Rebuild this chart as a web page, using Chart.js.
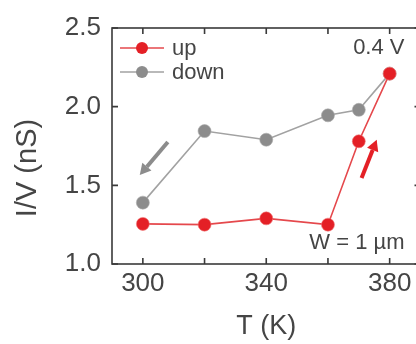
<!DOCTYPE html>
<html><head><meta charset="utf-8">
<style>
html,body{margin:0;padding:0;background:#fff;overflow:hidden;width:416px;height:344px}
#wrap{width:428px;height:344px;position:relative}
canvas{display:block}
</style>
<script src="https://cdn.jsdelivr.net/npm/chart.js@4.4.1/dist/chart.umd.min.js"></script>
</head><body>
<div id="wrap"><canvas id="c" width="428" height="344"></canvas></div>
<script>
const temperatures = [300, 320, 340, 360, 370, 380];
const upValues = [1.255, 1.25, 1.29, 1.25, 1.78, 2.21];
const downValues = [1.39, 1.845, 1.79, 1.945, 1.98, 2.21];
const xTickLabels = [300, 340, 380];
const xMinorTicks = [300, 320, 340, 360, 380];
const yTickValues = [1.0, 1.5, 2.0, 2.5];
const seriesNames = ['up', 'down'];
const xTitle = 'T (K)';
const yTitle = 'I/V (nS)';
const voltageLabel = '0.4 V';
const widthLabel = 'W = 1 µm';
// arrows in data coordinates: [x0, y0, x1, y1]
const downArrow = [308.1, 1.775, 299.0, 1.565];
const upArrow = [370.9, 1.546, 375.8, 1.79];

const RED = '#e42026', RED_LINE = '#e5484c', GRAY = '#8c8c8c', GRAY_LINE = '#a2a2a2';
const TXT = '#454545', AX = '#3a3a3a';
const FONT = '"Liberation Sans", Arial, sans-serif';

const deco = {
  id: 'deco',
  afterDraw(chart) {
    const {ctx, chartArea: a, scales: {x, y}} = chart;
    ctx.save();
    ctx.strokeStyle = AX; ctx.lineWidth = 1.6;
    ctx.strokeRect(a.left, a.top, a.right - a.left, a.bottom - a.top);
    const tl = 6;
    ctx.beginPath();
    xMinorTicks.forEach(v => {
      const px = x.getPixelForValue(v);
      ctx.moveTo(px, a.bottom); ctx.lineTo(px, a.bottom - tl);
      ctx.moveTo(px, a.top); ctx.lineTo(px, a.top + tl);
    });
    yTickValues.forEach(v => {
      const py = y.getPixelForValue(v);
      ctx.moveTo(a.left, py); ctx.lineTo(a.left + tl, py);
      ctx.moveTo(a.right, py); ctx.lineTo(a.right - tl, py);
    });
    ctx.stroke();
    function arrow(d, col) {
      const x0 = x.getPixelForValue(d[0]), y0 = y.getPixelForValue(d[1]);
      const x1 = x.getPixelForValue(d[2]), y1 = y.getPixelForValue(d[3]);
      const ang = Math.atan2(y1 - y0, x1 - x0);
      const hl = 11, hw = 6;
      const bx = x1 - hl * Math.cos(ang), by = y1 - hl * Math.sin(ang);
      ctx.strokeStyle = col; ctx.fillStyle = col; ctx.lineWidth = 4; ctx.lineCap = 'butt';
      ctx.beginPath(); ctx.moveTo(x0, y0); ctx.lineTo(bx, by); ctx.stroke();
      ctx.beginPath();
      ctx.moveTo(x1, y1);
      ctx.lineTo(bx + hw * Math.sin(ang), by - hw * Math.cos(ang));
      ctx.lineTo(bx - hw * Math.sin(ang), by + hw * Math.cos(ang));
      ctx.closePath(); ctx.fill();
    }
    arrow(downArrow, GRAY);
    arrow(upArrow, RED);
    const cols = [[RED, RED_LINE], [GRAY, GRAY_LINE]];
    ctx.font = '22px ' + FONT; ctx.textBaseline = 'middle'; ctx.textAlign = 'left';
    seriesNames.forEach((n, i) => {
      const ly = a.top + 20 + i * 24;
      const lx = a.left + 30;
      ctx.strokeStyle = cols[i][1]; ctx.lineWidth = 1.3;
      ctx.beginPath(); ctx.moveTo(lx - 22, ly); ctx.lineTo(lx + 22, ly); ctx.stroke();
      ctx.fillStyle = cols[i][0];
      ctx.beginPath(); ctx.arc(lx, ly, 6, 0, Math.PI * 2); ctx.fill();
      ctx.fillStyle = TXT;
      ctx.fillText(n, a.left + 60, ly + 1);
    });
    ctx.textAlign = 'right';
    ctx.fillText(voltageLabel, a.right - 16, a.top + 20);
    ctx.fillText(widthLabel, a.right - 16, a.bottom - 21);
    ctx.save();
    ctx.font = '29px ' + FONT; ctx.textAlign = 'center'; ctx.textBaseline = 'middle';
    ctx.translate(28, a.top + 140);
    ctx.rotate(-Math.PI / 2);
    ctx.fillText(yTitle, 0, 0);
    ctx.restore();
    ctx.restore();
  }
};

new Chart(document.getElementById('c'), {
  type: 'line',
  data: {
    datasets: [
      { label: seriesNames[0], data: temperatures.map((t, i) => ({x: t, y: upValues[i]})),
        borderColor: RED_LINE, backgroundColor: RED, pointBackgroundColor: RED, pointBorderColor: 'rgba(240,120,120,0.6)',
        pointBorderWidth: 1, pointRadius: 6.5, borderWidth: 1.6, tension: 0 },
      { label: seriesNames[1], data: temperatures.map((t, i) => ({x: t, y: downValues[i]})),
        borderColor: GRAY_LINE, backgroundColor: GRAY, pointBackgroundColor: GRAY, pointBorderColor: 'rgba(170,170,170,0.6)',
        pointBorderWidth: 1, pointRadius: 6.5, borderWidth: 1.6, tension: 0 }
    ]
  },
  options: {
    responsive: false, animation: false, devicePixelRatio: 1,
    layout: { padding: { top: 28, right: 4, left: 0, bottom: 0 } },
    plugins: { legend: { display: false }, tooltip: { enabled: false } },
    scales: {
      x: {
        type: 'linear', min: 290, max: 390,
        afterFit: s => { s.height = 80; s.paddingLeft = 0; s.paddingRight = 0; },
        afterBuildTicks: s => { s.ticks = xTickLabels.map(v => ({value: v})); },
        grid: { display: false, drawTicks: false },
        border: { display: false },
        ticks: { color: TXT, font: { family: FONT, size: 26 }, padding: 4, maxRotation: 0, autoSkip: false },
        title: { display: true, text: xTitle, color: TXT, font: { family: FONT, size: 27 }, padding: { top: 0, bottom: 1 } }
      },
      y: {
        min: 1.0, max: 2.5,
        afterFit: s => { s.width = 112; s.paddingTop = 0; s.paddingBottom = 0; },
        afterBuildTicks: s => { s.ticks = yTickValues.map(v => ({value: v})); },
        grid: { display: false, drawTicks: false },
        border: { display: false },
        ticks: { color: TXT, font: { family: FONT, size: 26 }, padding: 11, callback: v => v.toFixed(1) },
        title: { display: false }
      }
    }
  },
  plugins: [deco]
});
</script>
</body></html>
